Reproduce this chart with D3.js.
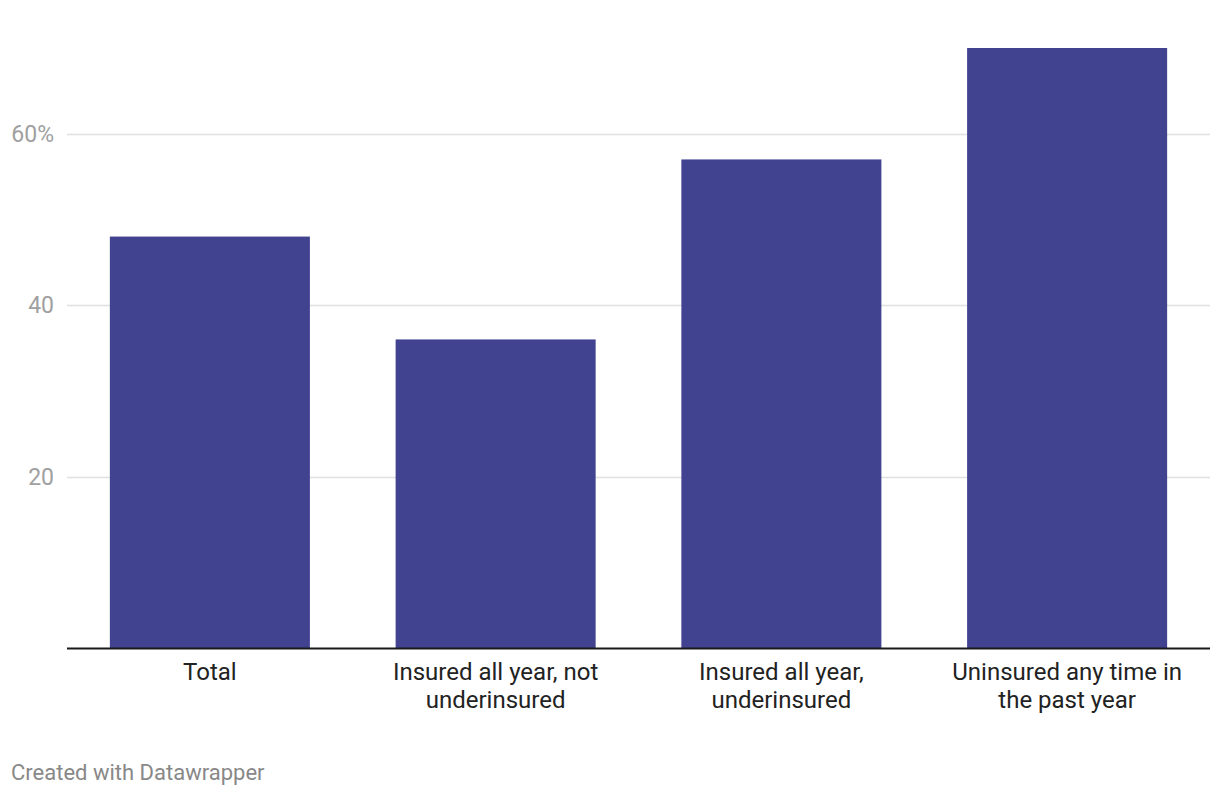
<!DOCTYPE html>
<html><head><meta charset="utf-8">
<script src="https://cdn.jsdelivr.net/npm/d3@7"></script>
<style>
body{margin:0;background:#fff;font-family:Roboto,sans-serif;}
</style></head><body>
<svg id="chart" width="1220" height="796"></svg>
<script>
const categories = [["Total"], ["Insured all year, not","underinsured"], ["Insured all year,","underinsured"], ["Uninsured any time in","the past year"]];
const values = [48, 36, 57, 70];
const yTicks = [20, 40, 60];
const yTickLabels = ["20", "40", "60%"];

const svg = d3.select("#chart");
const margin = {left: 67, right: 10, top: 0, bottom: 148};
const W = 1220, H = 796;
const x = d3.scaleBand().domain(d3.range(categories.length)).range([margin.left, W - margin.right]).paddingInner(0.3).paddingOuter(0.15);
const y = d3.scaleLinear().domain([0, 70]).range([648, 48]);

const g = svg.append("g");
// gridlines
g.selectAll("line.grid").data(yTicks).enter().append("line")
  .attr("x1", margin.left).attr("x2", W - margin.right)
  .attr("y1", d => Math.round(y(d)) + 0.5).attr("y2", d => Math.round(y(d)) + 0.5)
  .attr("stroke", "#e0e0e0").attr("stroke-width", 1.5);
g.selectAll("text.ytick").data(yTicks).enter().append("text")
  .attr("x", 54).attr("y", d => y(d)).attr("dy", "0.35em")
  .attr("text-anchor", "end").attr("fill", "#a0a0a0")
  .style("font-size", "23px").text((d, i) => yTickLabels[i]);
// bars
g.selectAll("rect.bar").data(values).enter().append("rect")
  .attr("x", (d, i) => x(i)).attr("width", x.bandwidth())
  .attr("y", d => y(d)).attr("height", d => y(0) - y(d))
  .attr("fill", "#414391");
// baseline
g.append("line").attr("x1", margin.left).attr("x2", W - margin.right)
  .attr("y1", y(0) + 0.5).attr("y2", y(0) + 0.5).attr("stroke", "#1a1a1a").attr("stroke-width", 2);
// category labels
const lab = g.selectAll("text.cat").data(categories).enter().append("text")
  .attr("x", (d, i) => x(i) + x.bandwidth() / 2).attr("y", 680)
  .attr("text-anchor", "middle").attr("fill", "#222").style("font-size", "24px");
lab.selectAll("tspan").data(d => d).enter().append("tspan")
  .attr("x", function(){ return d3.select(this.parentNode).attr("x"); })
  .attr("dy", (d, i) => i === 0 ? 0 : 28).text(d => d);
// footer
svg.append("text").attr("x", 11).attr("y", 780).attr("fill", "#888")
  .style("font-size", "22px").text("Created with Datawrapper");
</script></body></html>
